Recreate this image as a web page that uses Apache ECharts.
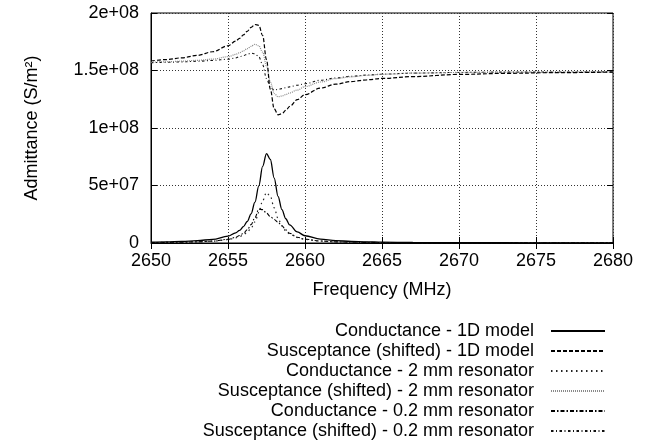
<!DOCTYPE html>
<html>
<head>
<meta charset="utf-8">
<script src="https://cdn.jsdelivr.net/npm/echarts@6/dist/echarts.min.js"></script>
<style>html,body{margin:0;padding:0;background:#fff}#c{width:653px;height:441px}</style>
</head>
<body>
<div id="c"></div>
<script>
// Frequency (MHz)
const freq = [2650, 2651, 2652, 2653, 2654, 2655, 2655.5, 2655.75, 2656, 2656.25, 2656.5, 2656.75, 2657, 2657.25, 2657.5, 2657.75, 2658, 2658.25, 2658.5, 2658.75, 2659, 2659.5, 2660, 2661, 2662, 2663, 2664, 2665, 2667, 2670, 2673, 2676, 2680];
// Values in units of 1e7 S/m^2
const UNIT = 1e7;
const cond1D = [0.07, 0.10, 0.13, 0.20, 0.32, 0.59, 0.88, 1.10, 1.42, 1.87, 2.54, 3.55, 4.97, 6.67, 7.78, 7.26, 5.65, 4.06, 2.90, 2.11, 1.58, 0.96, 0.63, 0.33, 0.21, 0.14, 0.10, 0.07, 0.05, 0.03, 0.02, 0.01, 0.01];
const sus1D = [15.83, 15.95, 16.10, 16.31, 16.63, 17.15, 17.55, 17.80, 18.09, 18.41, 18.75, 19.00, 18.93, 18.04, 15.94, 13.36, 11.67, 11.15, 11.24, 11.53, 11.87, 12.46, 12.90, 13.47, 13.81, 14.04, 14.19, 14.31, 14.47, 14.66, 14.75, 14.81, 14.86];
const cond2mm = [0.04, 0.05, 0.07, 0.10, 0.16, 0.29, 0.44, 0.55, 0.71, 0.94, 1.30, 1.84, 2.66, 3.68, 4.38, 4.05, 3.06, 2.14, 1.49, 1.07, 0.79, 0.48, 0.31, 0.16, 0.10, 0.07, 0.05, 0.04, 0.02, 0.01, 0.01, 0.01, 0.01];
const sus2mm = [15.72, 15.76, 15.81, 15.88, 15.99, 16.20, 16.40, 16.55, 16.70, 16.90, 17.10, 17.28, 17.15, 16.60, 15.40, 14.00, 13.00, 12.72, 12.78, 12.90, 13.05, 13.30, 13.60, 14.00, 14.30, 14.45, 14.58, 14.67, 14.77, 14.83, 14.86, 14.87, 14.88];
const cond02mm = [0.04, 0.05, 0.07, 0.10, 0.16, 0.32, 0.50, 0.65, 0.85, 1.15, 1.60, 2.20, 2.95, 2.90, 2.60, 2.30, 2.05, 1.80, 1.50, 1.15, 0.85, 0.50, 0.33, 0.17, 0.10, 0.07, 0.05, 0.04, 0.03, 0.02, 0.01, 0.01, 0.01];
const sus02mm = [15.68, 15.71, 15.75, 15.80, 15.88, 15.98, 16.10, 16.20, 16.30, 16.42, 16.50, 16.45, 16.20, 15.50, 14.30, 13.55, 13.30, 13.35, 13.42, 13.50, 13.58, 13.72, 13.85, 14.15, 14.35, 14.50, 14.60, 14.68, 14.77, 14.83, 14.86, 14.87, 14.88];

const seriesNames = [
  'Conductance - 1D model',
  'Susceptance (shifted) - 1D model',
  'Conductance - 2 mm resonator',
  'Susceptance (shifted) - 2 mm resonator',
  'Conductance - 0.2 mm resonator',
  'Susceptance (shifted) - 0.2 mm resonator'
];
const seriesValues = [cond1D, sus1D, cond2mm, sus2mm, cond02mm, sus02mm];
const xTicks = {min: 2650, max: 2680, interval: 5};
const yTicks = {min: 0, max: 2e8, interval: 5e7};
const xAxisTitle = 'Frequency (MHz)';
const yAxisTitle = 'Admittance (S/m²)';

const styles = [
  {color: '#000', width: 1.3, type: 'solid'},
  {color: '#000', width: 1.2, type: [4, 2]},
  {color: '#222', width: 1.2, type: [1.5, 3.5]},
  {color: '#8a8a8a', width: 1.2, type: [1, 1]},
  {color: '#000', width: 1.1, type: [4, 2, 1.5, 2]},
  {color: '#111', width: 1.1, type: [2.5, 2.5, 1, 2.5]}
];

const FONT = 'Liberation Sans, Arial, Helvetica, sans-serif';

function fmtY(v) {
  if (v === 0) return '0';
  return v.toExponential().replace(/e([+-])(\d+)$/, function (m, s, d) {
    return 'e' + s + (d.length < 2 ? '0' + d : d);
  });
}
function fmtX(v) { return String(v); }

const series = seriesValues.map(function (vals, i) {
  return {
    name: seriesNames[i],
    type: 'line',
    xAxisIndex: 0,
    yAxisIndex: 0,
    data: freq.map(function (f, k) { return [f, vals[k] * UNIT]; }),
    showSymbol: false,
    symbol: 'none',
    smooth: 0.35,
    smoothMonotone: 'x',
    z: 10 - i,
    lineStyle: {color: styles[i].color, width: styles[i].width, type: styles[i].type},
    itemStyle: {color: styles[i].color},
    emphasis: {disabled: true},
    animation: false
  };
});

const chart = echarts.init(document.getElementById('c'), null, {renderer: 'canvas'});
chart.setOption({
  animation: false,
  backgroundColor: '#fff',
  textStyle: {fontFamily: FONT, color: '#000'},
  grid: {left: 151, right: 40, top: 13, bottom: 198, show: true, borderColor: '#000', borderWidth: 1, backgroundColor: 'transparent'},
  legend: {
    data: seriesNames,
    orient: 'vertical',
    align: 'right',
    right: 47,
    top: 322,
    padding: 0,
    itemWidth: 54,
    itemHeight: 14,
    itemGap: 2,
    selectedMode: false,
    itemStyle: {opacity: 0},
    textStyle: {fontFamily: FONT, fontSize: 18, color: '#000', padding: [0, 12, 0, 0]}
  },
  xAxis: [{
    type: 'value',
    min: xTicks.min, max: xTicks.max, interval: xTicks.interval,
    name: xAxisTitle,
    nameLocation: 'middle',
    nameGap: 38,
    nameTextStyle: {fontFamily: FONT, fontSize: 18, color: '#000'},
    axisLine: {show: true, lineStyle: {color: '#000', width: 1}},
    axisTick: {show: true, inside: true, length: 6, lineStyle: {color: '#000'}},
    axisLabel: {fontFamily: FONT, fontSize: 18, color: '#000', margin: 9, formatter: fmtX},
    splitLine: {show: true, lineStyle: {color: '#333', width: 1, type: [1, 2]}}
  }, {
    type: 'value', position: 'top',
    min: xTicks.min, max: xTicks.max, interval: xTicks.interval,
    axisLine: {show: false}, axisLabel: {show: false}, splitLine: {show: false},
    axisTick: {show: true, inside: true, length: 6, lineStyle: {color: '#000'}}
  }],
  yAxis: [{
    type: 'value',
    min: yTicks.min, max: yTicks.max, interval: yTicks.interval,
    name: yAxisTitle,
    nameLocation: 'middle',
    nameGap: 110,
    nameTextStyle: {fontFamily: FONT, fontSize: 18, color: '#000'},
    axisLine: {show: true, lineStyle: {color: '#000', width: 1}},
    axisTick: {show: true, inside: true, length: 6, lineStyle: {color: '#000'}},
    axisLabel: {fontFamily: FONT, fontSize: 18, color: '#000', margin: 12, formatter: fmtY},
    splitLine: {show: true, lineStyle: {color: '#333', width: 1, type: [1, 2]}}
  }, {
    type: 'value', position: 'right',
    min: yTicks.min, max: yTicks.max, interval: yTicks.interval,
    axisLine: {show: false}, axisLabel: {show: false}, splitLine: {show: false},
    axisTick: {show: true, inside: true, length: 6, lineStyle: {color: '#000'}}
  }],
  series: series
});
</script>
</body>
</html>
